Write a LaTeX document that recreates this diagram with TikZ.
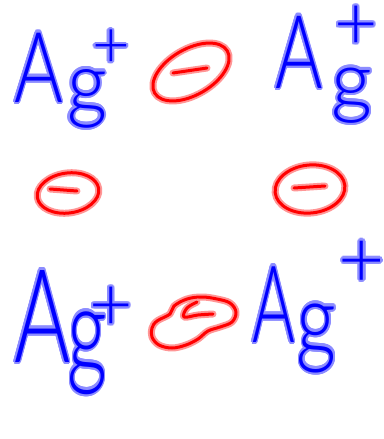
\documentclass[tikz,border=0pt]{standalone}
\usepackage{fontspec}
\usepackage{graphicx}
\newfontfamily\hand{Lato Light}
\usepackage[copies]{contour}
\contourlength{2.2pt}
\contournumber{16}
\usetikzlibrary{shapes.geometric}
\definecolor{inkblue}{RGB}{0,0,255}
\definecolor{haloblue}{RGB}{140,140,255}
\definecolor{inkred}{RGB}{255,0,0}
\definecolor{halored}{RGB}{255,150,150}
\tikzset{
  agtext/.style={anchor=base west, inner sep=0pt, text=inkblue, font=\hand},
  plustext/.style={anchor=center, inner sep=0pt, text=inkblue},
  redline/.style={draw=inkred, line width=3pt, line cap=round, line join=round,
    preaction={draw=halored, line width=7pt, line cap=round, line join=round}},
  electron/.style={redline, ellipse, inner sep=0pt},
}
\newcommand{\hsz}[1]{\hand\fontsize{#1}{#1}\selectfont}
% #1 A size, #2 A xscale, #3 gap, #4 g size, #5 g xscale, #6 g yscale, #7 g lowering
\newcommand{\agmark}[7]{{\fontsize{#1}{#1}\selectfont\scalebox{#2}[1]{\contour{haloblue}{A}}}\hspace{#3}\raisebox{-#7}{\fontsize{#4}{#4}\selectfont\scalebox{#5}[#6]{\contour{haloblue}{g}}}}
\begin{document}
\begin{tikzpicture}[x=1pt,y=-1pt]
\fill[white] (0,0) rectangle (383,439);
\useasboundingbox (0,0) rectangle (383,439);
% Ag+ labels
\node[agtext] (ag1) at (14,102) {\agmark{98}{0.76}{4pt}{85}{0.92}{1.0}{10pt}};
\node[plustext, font=\hsz{65}] (p1) at (111,50) {\contour{haloblue}{+}};
\node[agtext] (ag2) at (275,88) {\agmark{102}{0.71}{9pt}{80}{1.0}{1.0}{20pt}};
\node[plustext, font=\hsz{75}] (p2) at (356,29) {\contour{haloblue}{+}};
\node[agtext] (ag3) at (14,362) {\agmark{130}{0.66}{-3pt}{120}{0.65}{1.0}{10pt}};
\node[plustext, font=\hsz{75}] (p3) at (111,310) {\contour{haloblue}{+}};
\node[agtext] (ag4) at (252,342) {\agmark{107}{0.61}{2pt}{100}{0.78}{1.0}{12pt}};
\node[plustext, font=\hsz{80}] (p4) at (362,265) {\contour{haloblue}{+}};
% electrons
\node[electron, minimum width=84pt, minimum height=46pt, rotate=30] (e1) at (191,72) {};
\draw[redline] (173,73) -- (207,68);
\node[electron, minimum width=62pt, minimum height=40pt, rotate=8] (e2) at (68,193) {};
\draw[redline] (50,189) -- (77,191);
\node[electron, minimum width=70pt, minimum height=48pt, rotate=6] (e3) at (310,189) {};
\draw[redline] (294,188) -- (325,186);
\draw[redline] plot[smooth cycle, tension=0.6] coordinates {(157,321) (170,314) (174,306) (187,299) (202,297) (217,299) (230,303) (236,312) (232,322) (220,327) (208,331) (198,339) (186,345) (172,348) (159,345) (152,337) (152,328)};
\draw[redline] plot[smooth, tension=0.6] coordinates {(197,302) (187,308) (184,317) (198,315) (213,314)};
\end{tikzpicture}
\end{document}
